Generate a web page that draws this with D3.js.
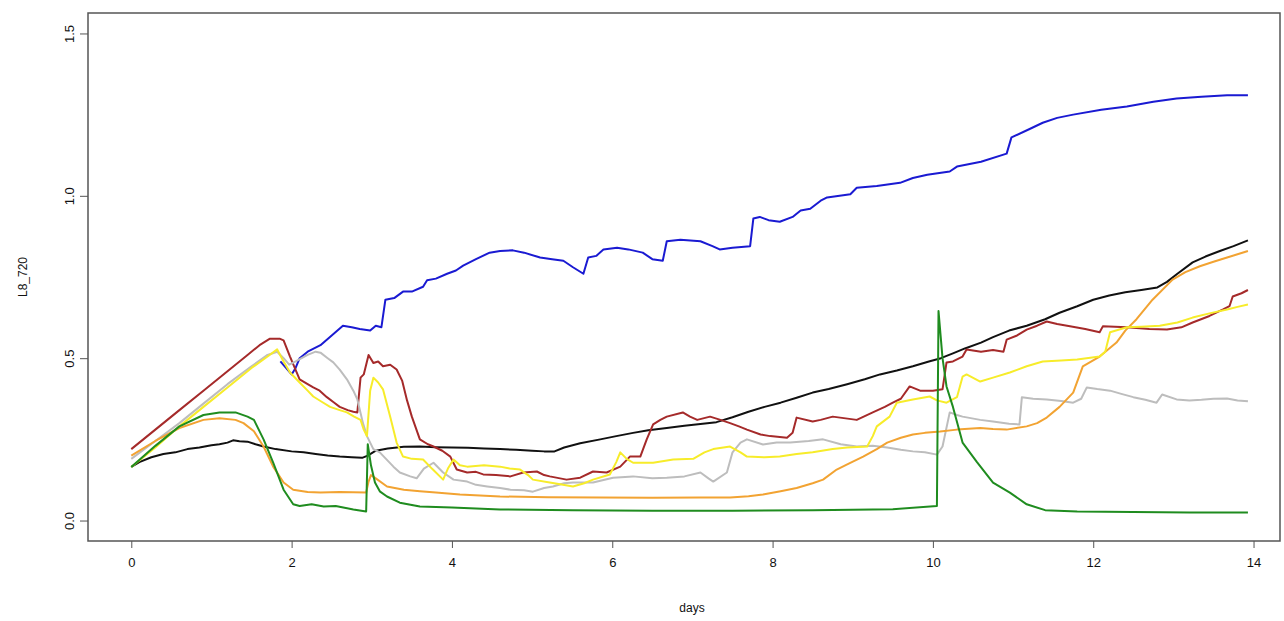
<!DOCTYPE html>
<html>
  <head>
    <meta charset="UTF-8" />
    <script src="https://d3js.org/d3.v7.min.js"></script>
    <title>L8_720</title>
    <style>
      body { margin: 0; background: #fff; }
      text { font-family: "Liberation Sans", Arial, sans-serif; fill: #111; }
    </style>
  </head>
  <body>
    <svg id="chart" width="1284" height="621"></svg>
    <script>
      // values: [day, L8_720]
      var blackSeries = [[0,0.165],[0.1,0.18],[0.25,0.195],[0.4,0.205],[0.55,0.21],[0.7,0.22],[0.85,0.225],[1.0,0.232],[1.1,0.235],[1.2,0.24],[1.27,0.247],[1.35,0.244],[1.45,0.243],[1.55,0.235],[1.65,0.228],[1.8,0.22],[2.0,0.213],[2.15,0.21],[2.3,0.205],[2.45,0.2],[2.6,0.197],[2.75,0.195],[2.88,0.193],[2.95,0.2],[3.05,0.215],[3.2,0.222],[3.4,0.227],[3.6,0.228],[3.8,0.226],[4.0,0.225],[4.2,0.224],[4.4,0.222],[4.6,0.22],[4.8,0.218],[5.0,0.215],[5.15,0.213],[5.28,0.213],[5.4,0.225],[5.6,0.238],[5.85,0.25],[6.05,0.26],[6.26,0.27],[6.45,0.278],[6.68,0.285],[6.9,0.292],[7.1,0.297],[7.3,0.303],[7.5,0.318],[7.7,0.335],[7.9,0.35],[8.1,0.363],[8.3,0.378],[8.5,0.394],[8.7,0.405],[8.93,0.42],[9.15,0.435],[9.34,0.45],[9.55,0.462],[9.75,0.475],[9.95,0.49],[10.1,0.5],[10.25,0.515],[10.4,0.53],[10.6,0.548],[10.75,0.565],[10.95,0.585],[11.17,0.6],[11.4,0.62],[11.58,0.64],[11.8,0.66],[12.0,0.68],[12.2,0.693],[12.4,0.703],[12.6,0.71],[12.8,0.718],[12.92,0.735],[13.05,0.76],[13.24,0.795],[13.4,0.813],[13.58,0.83],[13.75,0.845],[13.93,0.863]];

      var blueSeries = [[1.86,0.49],[1.93,0.47],[2.0,0.45],[2.05,0.47],[2.1,0.5],[2.2,0.52],[2.36,0.54],[2.5,0.57],[2.64,0.6],[2.75,0.595],[2.85,0.59],[2.98,0.585],[3.05,0.6],[3.12,0.595],[3.17,0.68],[3.28,0.685],[3.39,0.705],[3.5,0.705],[3.64,0.72],[3.69,0.74],[3.8,0.745],[3.94,0.76],[4.05,0.77],[4.14,0.785],[4.3,0.805],[4.47,0.825],[4.6,0.83],[4.76,0.832],[4.9,0.825],[5.1,0.81],[5.25,0.805],[5.39,0.8],[5.51,0.78],[5.64,0.76],[5.7,0.81],[5.8,0.815],[5.89,0.835],[6.06,0.84],[6.2,0.835],[6.38,0.825],[6.5,0.805],[6.63,0.8],[6.68,0.86],[6.85,0.865],[7.1,0.86],[7.25,0.845],[7.34,0.835],[7.5,0.84],[7.72,0.845],[7.76,0.93],[7.84,0.935],[7.95,0.925],[8.09,0.92],[8.25,0.935],[8.35,0.955],[8.47,0.96],[8.6,0.985],[8.68,0.995],[8.97,1.005],[9.05,1.025],[9.3,1.03],[9.59,1.04],[9.75,1.055],[9.93,1.065],[10.21,1.075],[10.3,1.09],[10.6,1.105],[10.92,1.13],[10.98,1.18],[11.2,1.205],[11.37,1.225],[11.55,1.24],[11.75,1.25],[12.1,1.265],[12.42,1.275],[12.75,1.29],[13.04,1.3],[13.35,1.305],[13.67,1.31],[13.93,1.31]];

      var redSeries = [[0,0.22],[0.3,0.28],[0.6,0.34],[0.9,0.4],[1.2,0.46],[1.45,0.51],[1.6,0.54],[1.73,0.56],[1.85,0.56],[1.9,0.555],[1.98,0.505],[2.1,0.435],[2.2,0.42],[2.27,0.41],[2.35,0.4],[2.44,0.38],[2.52,0.365],[2.6,0.35],[2.7,0.34],[2.77,0.335],[2.82,0.333],[2.86,0.44],[2.9,0.45],[2.96,0.51],[3.02,0.485],[3.08,0.49],[3.14,0.475],[3.23,0.48],[3.31,0.465],[3.38,0.43],[3.44,0.37],[3.5,0.32],[3.6,0.25],[3.7,0.235],[3.77,0.228],[3.88,0.215],[3.98,0.197],[4.06,0.157],[4.19,0.148],[4.3,0.15],[4.39,0.142],[4.55,0.14],[4.73,0.136],[4.89,0.148],[5.06,0.151],[5.15,0.14],[5.22,0.136],[5.43,0.126],[5.6,0.132],[5.76,0.151],[5.93,0.148],[6.1,0.166],[6.22,0.197],[6.35,0.197],[6.43,0.25],[6.51,0.296],[6.6,0.31],[6.68,0.32],[6.88,0.333],[6.97,0.32],[7.06,0.31],[7.22,0.32],[7.35,0.31],[7.47,0.3],[7.58,0.29],[7.68,0.28],[7.85,0.265],[7.97,0.26],[8.18,0.255],[8.25,0.27],[8.3,0.317],[8.5,0.305],[8.6,0.31],[8.75,0.32],[9.05,0.31],[9.25,0.333],[9.4,0.35],[9.5,0.363],[9.6,0.375],[9.71,0.413],[9.84,0.4],[10.0,0.4],[10.12,0.404],[10.17,0.487],[10.25,0.49],[10.37,0.505],[10.42,0.527],[10.6,0.52],[10.75,0.525],[10.88,0.52],[10.92,0.557],[11.05,0.57],[11.17,0.588],[11.3,0.6],[11.42,0.613],[11.55,0.605],[11.71,0.598],[11.9,0.59],[12.08,0.58],[12.12,0.598],[12.42,0.595],[12.7,0.59],[12.92,0.588],[13.1,0.595],[13.24,0.61],[13.45,0.63],[13.62,0.65],[13.7,0.66],[13.74,0.69],[13.85,0.7],[13.93,0.71]];

      var graySeries = [[0,0.19],[0.3,0.245],[0.6,0.3],[0.9,0.36],[1.2,0.42],[1.5,0.475],[1.7,0.51],[1.82,0.52],[1.9,0.5],[1.97,0.48],[2.05,0.49],[2.2,0.51],[2.3,0.52],[2.36,0.517],[2.45,0.5],[2.52,0.487],[2.6,0.465],[2.69,0.435],[2.77,0.4],[2.82,0.373],[2.89,0.3],[2.94,0.26],[3.02,0.22],[3.1,0.21],[3.27,0.166],[3.35,0.148],[3.48,0.136],[3.56,0.13],[3.65,0.16],[3.77,0.178],[3.89,0.148],[4.02,0.126],[4.19,0.12],[4.3,0.11],[4.44,0.105],[4.6,0.1],[4.73,0.095],[4.9,0.093],[5.01,0.089],[5.15,0.1],[5.26,0.105],[5.4,0.115],[5.51,0.117],[5.76,0.117],[6.01,0.132],[6.26,0.136],[6.5,0.13],[6.68,0.132],[6.9,0.136],[7.1,0.148],[7.2,0.13],[7.26,0.12],[7.43,0.148],[7.5,0.21],[7.6,0.24],[7.68,0.25],[7.88,0.234],[8.05,0.24],[8.22,0.24],[8.45,0.245],[8.63,0.25],[8.85,0.235],[9.05,0.228],[9.25,0.23],[9.43,0.225],[9.6,0.218],[9.75,0.213],[9.9,0.21],[10.05,0.203],[10.12,0.228],[10.21,0.333],[10.3,0.325],[10.37,0.32],[10.59,0.31],[10.75,0.305],[10.95,0.298],[11.08,0.296],[11.11,0.38],[11.25,0.375],[11.42,0.373],[11.6,0.368],[11.75,0.363],[11.85,0.375],[11.92,0.41],[12.05,0.405],[12.21,0.4],[12.35,0.39],[12.5,0.38],[12.65,0.372],[12.79,0.363],[12.86,0.388],[13.04,0.373],[13.2,0.37],[13.35,0.372],[13.5,0.375],[13.67,0.376],[13.8,0.37],[13.93,0.367]];

      var orangeSeries = [[0,0.2],[0.3,0.245],[0.6,0.285],[0.9,0.31],[1.1,0.315],[1.3,0.31],[1.4,0.3],[1.53,0.275],[1.65,0.228],[1.77,0.166],[1.9,0.117],[2.02,0.095],[2.2,0.088],[2.36,0.086],[2.6,0.088],[2.93,0.086],[2.96,0.12],[2.99,0.14],[3.05,0.13],[3.19,0.105],[3.4,0.095],[3.6,0.09],[3.8,0.086],[4.1,0.08],[4.6,0.074],[5.2,0.072],[5.85,0.071],[6.5,0.07],[7.1,0.071],[7.47,0.071],[7.7,0.075],[7.88,0.08],[8.1,0.09],[8.3,0.1],[8.5,0.115],[8.63,0.126],[8.8,0.157],[8.95,0.175],[9.13,0.197],[9.3,0.22],[9.43,0.24],[9.6,0.255],[9.75,0.265],[9.9,0.27],[10.09,0.274],[10.3,0.28],[10.59,0.285],[10.75,0.282],[10.92,0.28],[11.17,0.29],[11.3,0.3],[11.42,0.317],[11.58,0.35],[11.75,0.394],[11.87,0.475],[12.08,0.505],[12.29,0.548],[12.4,0.585],[12.54,0.62],[12.74,0.68],[12.99,0.742],[13.15,0.765],[13.33,0.783],[13.5,0.797],[13.67,0.81],[13.8,0.82],[13.93,0.83]];

      var yellowSeries = [[0,0.165],[0.3,0.225],[0.6,0.29],[0.9,0.35],[1.2,0.41],[1.5,0.47],[1.7,0.505],[1.82,0.527],[1.9,0.49],[1.98,0.456],[2.1,0.425],[2.2,0.4],[2.27,0.382],[2.38,0.365],[2.48,0.35],[2.6,0.34],[2.69,0.333],[2.78,0.32],[2.86,0.31],[2.9,0.28],[2.94,0.26],[2.98,0.4],[3.02,0.44],[3.08,0.425],[3.14,0.404],[3.23,0.32],[3.31,0.24],[3.39,0.197],[3.5,0.19],[3.64,0.188],[3.75,0.16],[3.89,0.126],[3.95,0.16],[4.02,0.188],[4.1,0.17],[4.19,0.166],[4.4,0.17],[4.6,0.166],[4.72,0.16],[4.85,0.157],[4.95,0.14],[5.01,0.126],[5.22,0.117],[5.35,0.112],[5.51,0.105],[5.65,0.115],[5.76,0.126],[5.97,0.142],[6.05,0.18],[6.1,0.21],[6.18,0.19],[6.26,0.178],[6.51,0.178],[6.76,0.188],[7.01,0.19],[7.15,0.21],[7.26,0.22],[7.47,0.228],[7.6,0.21],[7.68,0.197],[7.9,0.195],[8.09,0.197],[8.3,0.205],[8.5,0.21],[8.75,0.22],[8.93,0.225],[9.18,0.228],[9.25,0.26],[9.3,0.29],[9.46,0.32],[9.55,0.363],[9.75,0.373],[9.96,0.382],[10.05,0.37],[10.17,0.363],[10.3,0.38],[10.37,0.443],[10.42,0.45],[10.59,0.428],[10.75,0.44],[10.96,0.456],[11.17,0.475],[11.37,0.49],[11.6,0.493],[11.8,0.496],[12.08,0.505],[12.15,0.52],[12.21,0.58],[12.42,0.595],[12.6,0.597],[12.83,0.6],[13.05,0.61],[13.24,0.625],[13.45,0.638],[13.67,0.65],[13.8,0.658],[13.93,0.665]];

      var greenSeries = [[0,0.165],[0.3,0.23],[0.6,0.29],[0.9,0.325],[1.1,0.333],[1.3,0.333],[1.45,0.32],[1.53,0.31],[1.65,0.25],[1.77,0.178],[1.9,0.095],[2.02,0.05],[2.1,0.045],[2.25,0.05],[2.4,0.043],[2.55,0.045],[2.77,0.034],[2.93,0.028],[2.95,0.235],[2.99,0.17],[3.04,0.117],[3.1,0.09],[3.19,0.074],[3.35,0.055],[3.6,0.043],[4.0,0.04],[4.6,0.034],[5.5,0.032],[6.5,0.03],[7.5,0.03],[8.5,0.032],[9.5,0.035],[10.05,0.045],[10.07,0.645],[10.12,0.5],[10.17,0.413],[10.25,0.35],[10.37,0.24],[10.55,0.18],[10.75,0.117],[10.96,0.086],[11.17,0.05],[11.4,0.032],[11.8,0.028],[12.5,0.026],[13.2,0.025],[13.93,0.025]];

      var xTicks = [0, 2, 4, 6, 8, 10, 12, 14];
      var yTicks = [0.0, 0.5, 1.0, 1.5];

      var series = [
        { data: blackSeries, color: "#111111" },
        { data: blueSeries, color: "#1a1ad2" },
        { data: redSeries, color: "#a52a2a" },
        { data: graySeries, color: "#bdbdbd" },
        { data: orangeSeries, color: "#f2a332" },
        { data: yellowSeries, color: "#f7ec2a" },
        { data: greenSeries, color: "#1f8c1f" }
      ];

      var svg = d3.select("#chart");
      var plotLeft = 88, plotRight = 1280, plotTop = 13, plotBottom = 541;

      var x = d3.scaleLinear().domain([-0.54, 14.33]).range([plotLeft, plotRight]);
      var y = d3.scaleLinear().domain([-0.063, 1.563]).range([plotBottom, plotTop]);

      var line = d3.line()
        .x(function(d) { return x(d[0]); })
        .y(function(d) { return y(d[1]); });

      svg.append("g")
        .selectAll("path")
        .data(series)
        .enter().append("path")
        .attr("d", function(s) { return line(s.data); })
        .attr("fill", "none")
        .attr("stroke", function(s) { return s.color; })
        .attr("stroke-width", 2)
        .attr("stroke-linejoin", "round");

      // box
      svg.append("rect")
        .attr("x", plotLeft).attr("y", plotTop)
        .attr("width", plotRight - plotLeft).attr("height", plotBottom - plotTop)
        .attr("fill", "none")
        .attr("stroke", "#555")
        .attr("stroke-width", 1.5);

      var xAxis = svg.append("g")
        .attr("transform", "translate(0," + plotBottom + ")")
        .call(d3.axisBottom(x).tickValues(xTicks).tickSize(7).tickPadding(10).tickFormat(d3.format("d")));
      xAxis.select(".domain").remove();
      xAxis.selectAll("line").attr("stroke", "#555");
      xAxis.selectAll("text").style("font-size", "13px").style("font-family", "Liberation Sans, Arial, sans-serif");

      var yAxis = svg.append("g")
        .attr("transform", "translate(" + plotLeft + ",0)")
        .call(d3.axisLeft(y).tickValues(yTicks).tickSize(8).tickFormat(d3.format(".1f")));
      yAxis.select(".domain").remove();
      yAxis.selectAll("line").attr("stroke", "#555");
      yAxis.selectAll("text")
        .style("font-size", "13px")
        .style("font-family", "Liberation Sans, Arial, sans-serif")
        .attr("text-anchor", "middle")
        .attr("x", 0).attr("dy", 0)
        .attr("transform", "translate(-14,0) rotate(-90)");

      svg.append("text")
        .attr("x", (plotLeft + plotRight) / 2 + 8)
        .attr("y", 612)
        .attr("text-anchor", "middle")
        .style("font-size", "12px")
        .text("days");

      svg.append("text")
        .attr("transform", "translate(27," + ((plotTop + plotBottom) / 2) + ") rotate(-90)")
        .attr("text-anchor", "middle")
        .style("font-size", "12px")
        .text("L8_720");
    </script>
  </body>
</html>
